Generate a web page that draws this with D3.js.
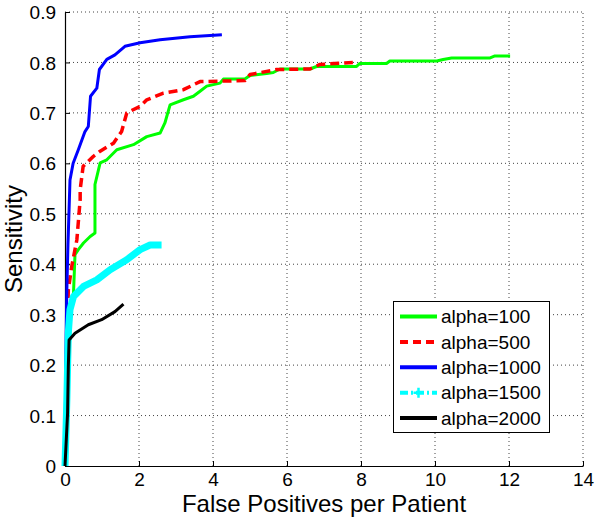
<!DOCTYPE html>
<html>
<head>
<meta charset="utf-8">
<script src="https://cdn.jsdelivr.net/npm/d3@7"></script>
<style>
  body { margin: 0; background: #fff; }
  svg { display: block; font-family: Arial, "Liberation Sans", sans-serif; }
</style>
</head>
<body>
<svg id="chart" width="600" height="520"></svg>
<script>
// ---- data ----
const xTicks = [0, 2, 4, 6, 8, 10, 12, 14];
const yTicks = [0, 0.1, 0.2, 0.3, 0.4, 0.5, 0.6, 0.7, 0.8, 0.9];
const yTickLabels = ["0", "0.1", "0.2", "0.3", "0.4", "0.5", "0.6", "0.7", "0.8", "0.9"];

const seriesNames = ["alpha=100", "alpha=500", "alpha=1000", "alpha=1500", "alpha=2000"];

const fp100 = [0, 0.15, 0.23, 0.27, 0.36, 0.50, 0.68, 0.81, 0.81, 0.95, 1.13, 1.40, 1.85, 2.21, 2.57, 2.70, 2.84, 3.2, 3.47, 3.65, 3.83, 4.19, 4.28, 4.86, 5.0, 5.45, 5.63, 5.81, 6.62, 6.80, 7.88, 7.97, 8.69, 8.78, 10.05, 10.22, 10.45, 11.49, 11.62, 12.03];
const sens100 = [0, 0.30, 0.343, 0.419, 0.429, 0.442, 0.455, 0.462, 0.558, 0.601, 0.607, 0.627, 0.637, 0.653, 0.660, 0.680, 0.716, 0.726, 0.733, 0.743, 0.753, 0.759, 0.767, 0.767, 0.774, 0.778, 0.780, 0.787, 0.787, 0.792, 0.792, 0.798, 0.798, 0.803, 0.803, 0.806, 0.809, 0.809, 0.813, 0.813];

const fp500 = [0, 0.05, 0.09, 0.18, 0.32, 0.41, 0.41, 0.49, 0.77, 0.95, 1.31, 1.53, 1.67, 2.03, 2.21, 2.66, 3.2, 3.65, 4.86, 5.0, 5.72, 6.62, 6.89, 7.78];
const sens500 = [0, 0.25, 0.349, 0.395, 0.448, 0.528, 0.548, 0.594, 0.614, 0.624, 0.640, 0.663, 0.700, 0.713, 0.726, 0.739, 0.746, 0.762, 0.764, 0.776, 0.786, 0.787, 0.796, 0.800];

const fp1000 = [0, 0.02, 0.05, 0.08, 0.09, 0.135, 0.22, 0.36, 0.54, 0.63, 0.69, 0.86, 0.93, 1.13, 1.35, 1.62, 2.03, 2.57, 3.38, 4.24];
const sens1000 = [0, 0.2, 0.35, 0.44, 0.462, 0.567, 0.60, 0.627, 0.663, 0.673, 0.733, 0.749, 0.786, 0.806, 0.815, 0.832, 0.839, 0.845, 0.851, 0.855];

const fp1500 = [0, 0.05, 0.09, 0.135, 0.23, 0.5, 0.86, 1.22, 1.67, 2.03, 2.3, 2.61];
const sens1500 = [0, 0.131, 0.264, 0.31, 0.336, 0.356, 0.369, 0.389, 0.409, 0.429, 0.438, 0.438];

const fp2000 = [0, 0.07, 0.09, 0.11, 0.27, 0.63, 0.99, 1.35, 1.58];
const sens2000 = [0, 0.105, 0.197, 0.25, 0.263, 0.28, 0.29, 0.306, 0.321];

const series = [
  { name: seriesNames[0], x: fp100, y: sens100, color: "#00ff00", width: 3, dash: null },
  { name: seriesNames[1], x: fp500, y: sens500, color: "#ff0000", width: 3.5, dash: "9,5" },
  { name: seriesNames[2], x: fp1000, y: sens1000, color: "#0000ff", width: 3, dash: null },
  { name: seriesNames[3], x: fp1500, y: sens1500, color: "#00ffff", width: 7, dash: null },
  { name: seriesNames[4], x: fp2000, y: sens2000, color: "#000000", width: 3, dash: null }
];

// ---- layout ----
const svg = d3.select("#chart");
const L = 65, R = 583, T = 12, B = 466;
const x = d3.scaleLinear().domain([0, 14]).range([L, R]);
const y = d3.scaleLinear().domain([0, 0.9]).range([B, T]);

// grid
const grid = svg.append("g");
grid.selectAll(".gx").data(xTicks.filter(d => d > 0)).join("line")
  .attr("x1", d => x(d)).attr("x2", d => x(d)).attr("y1", B).attr("y2", T)
  .attr("stroke", "#444").attr("stroke-width", 1).attr("stroke-dasharray", "1,3");
grid.selectAll(".gy").data(yTicks.filter(d => d > 0)).join("line")
  .attr("y1", d => y(d)).attr("y2", d => y(d)).attr("x1", L).attr("x2", R)
  .attr("stroke", "#444").attr("stroke-width", 1).attr("stroke-dasharray", "1,3");

// axes
const xAxis = d3.axisBottom(x).tickValues(xTicks).tickSizeInner(-5).tickSizeOuter(0).tickPadding(6);
const yAxis = d3.axisLeft(y).tickValues(yTicks).tickFormat((d, i) => yTickLabels[i]).tickSizeInner(-5).tickSizeOuter(0).tickPadding(9);

const gx = svg.append("g").attr("transform", `translate(0,${B})`).call(xAxis);
const gy = svg.append("g").attr("transform", `translate(${L},0)`).call(yAxis);
[gx, gy].forEach(g => {
  g.select(".domain").attr("stroke", "#000").attr("stroke-width", 1.2);
  g.selectAll(".tick line").attr("stroke", "#000");
  g.selectAll(".tick text").attr("font-size", 19).attr("fill", "#000");
});
gx.selectAll(".tick text").attr("dy", "0.72em");
gy.selectAll(".tick text").attr("dy", "0.35em");

// lines
const line = d3.line().x(d => x(d[0])).y(d => y(d[1]));
const plot = svg.append("g");
series.forEach(s => {
  const pts = s.x.map((v, i) => [v, s.y[i]]);
  plot.append("path").datum(pts)
    .attr("d", line)
    .attr("fill", "none")
    .attr("stroke", s.color)
    .attr("stroke-width", s.width)
    .attr("stroke-linejoin", "round")
    .attr("stroke-dasharray", s.dash);
});

// axis labels
svg.append("text").attr("x", (L + R) / 2).attr("y", 512)
  .attr("text-anchor", "middle").attr("font-size", 24).text("False Positives per Patient");
svg.append("text").attr("transform", `translate(22,${(T + B) / 2}) rotate(-90)`)
  .attr("text-anchor", "middle").attr("font-size", 24).text("Sensitivity");

// legend
const lg = svg.append("g");
lg.append("rect").attr("x", 393.5).attr("y", 301.5).attr("width", 156).attr("height", 131)
  .attr("fill", "#fff").attr("stroke", "#000").attr("stroke-width", 1);
const legendStyles = [
  { color: "#00ff00", width: 4, dash: null },
  { color: "#ff0000", width: 4, dash: "8,5" },
  { color: "#0000ff", width: 4, dash: null },
  { color: "#00ffff", width: 4, dash: "8,3,2,3" },
  { color: "#000000", width: 4, dash: null }
];
seriesNames.forEach((n, i) => {
  const cy = 316.5 + i * 25.4;
  const st = legendStyles[i];
  lg.append("line").attr("x1", 400).attr("x2", 437).attr("y1", cy).attr("y2", cy)
    .attr("stroke", st.color).attr("stroke-width", st.width).attr("stroke-dasharray", st.dash);
  if (i === 3) {
    lg.append("path").attr("d", `M${418.5 - 5},${cy}H${418.5 + 5}M418.5,${cy - 5}V${cy + 5}`)
      .attr("stroke", st.color).attr("stroke-width", 2.5);
  }
  lg.append("text").attr("x", 441).attr("y", cy).attr("dy", "0.35em")
    .attr("font-size", 19).text(n);
});
</script>
</body>
</html>
